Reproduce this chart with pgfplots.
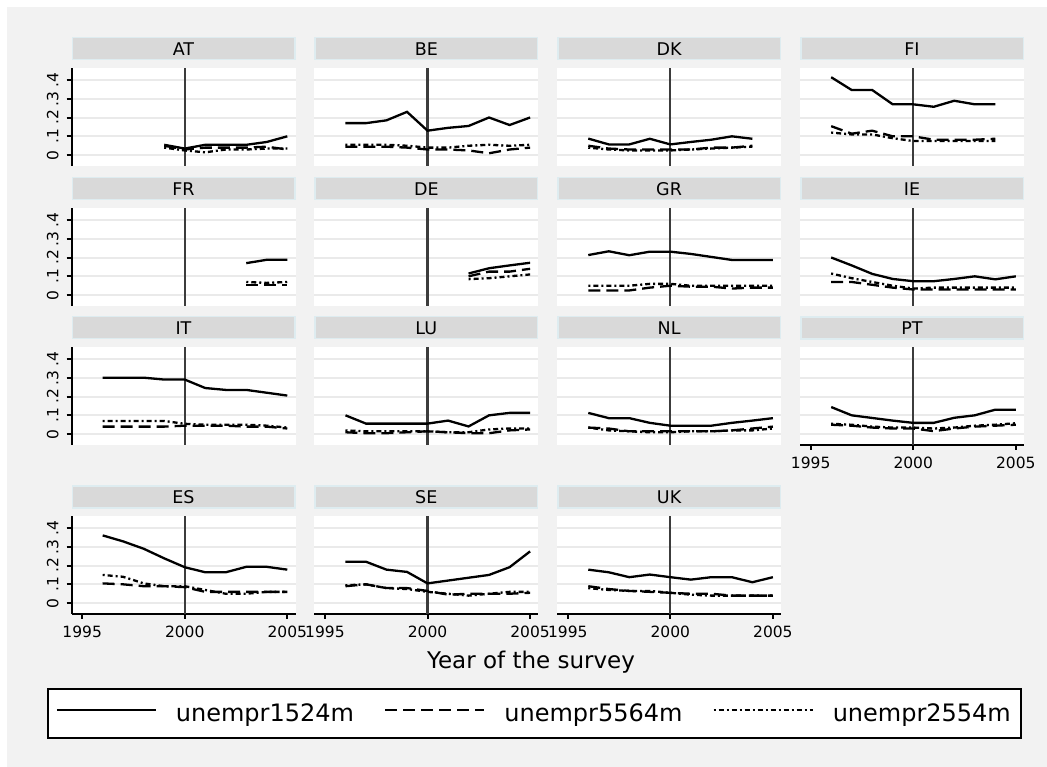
\documentclass[border=0pt]{standalone}
\usepackage{fontspec}
\setmainfont{DejaVu Sans}
\usepackage{pgfplots}
\pgfplotsset{compat=1.18}
\definecolor{bggray}{RGB}{242,242,242}
\definecolor{hdrgray}{RGB}{217,217,217}
\definecolor{hdrborder}{RGB}{222,236,240}
\definecolor{gridgray}{RGB}{234,234,234}
\definecolor{vlinegray}{RGB}{60,60,60}
\newcommand{\tickfont}{\fontsize{15.5}{18}\selectfont}
\newcommand{\hdrfont}{\fontsize{17.5}{19}\selectfont}
\newcommand{\bigfont}{\fontsize{24}{28}\selectfont}
\pgfplotsset{
 panel/.style={
  scale only axis, width=224pt, height=97.5pt, anchor=north west,
  xmin=1994.48, xmax=2005.4, ymin=-0.055, ymax=0.463,
  axis background/.style={fill=white},
  separate axis lines, axis x line*=bottom, axis y line*=left,
  x axis line style={draw=none,-}, y axis line style={draw=none,-},
  xtick={1995,2000,2005}, xticklabels={}, ytick={0,0.1,0.2,0.3,0.4}, yticklabels={},
  xtick style={draw=none}, ytick style={draw=none},
  ymajorgrids, major grid style={gridgray, line width=2pt},
  tick align=outside, major tick length=5pt,
  tick label style={font=\tickfont},
  title style={at={(0.5,1)}, anchor=south, yshift=1.5pt, fill=hdrgray, draw=hdrborder, line width=1.5pt, minimum width=222.5pt, minimum height=22pt, inner sep=0pt, font=\hdrfont},
  legend image code/.code={\draw[##1] (0pt,3.5pt) -- (99pt,3.5pt);},
 },
 ylab/.style={y axis line style={draw=black, line width=2pt}, ytick style={draw=black, line width=2pt}, yticklabels={0,.1,.2,.3,.4}, yticklabel style={rotate=90, anchor=south}, yticklabel shift=4.5pt},
 xlab/.style={x axis line style={draw=black, line width=2pt}, xtick style={draw=black, line width=2pt}, xticklabels={1995,2000,2005}, xticklabel shift=3.5pt},
 s1/.style={black, line width=2.3pt},
 s2/.style={black, line width=2.3pt, dash pattern=on 12pt off 6pt},
 s3/.style={black, line width=2.3pt, dash pattern=on 2pt off 3pt on 5pt off 3pt},
 vl/.style={vlinegray, line width=2.2pt, forget plot},
}
\begin{document}
\begin{tikzpicture}
\fill[white] (0,0) rectangle (1047pt,-767pt);
\fill[bggray] (7pt,-7pt) rectangle (1047pt,-767pt);

% Row 1
\begin{axis}[panel, ylab, at={(71.5pt,-68pt)}, title={AT}]
\addplot[vl] coordinates {(2000,-0.055) (2000,0.463)};
\addplot[s1] coordinates {(1999,0.055) (2000,0.035) (2001,0.055) (2002,0.055) (2003,0.055) (2004,0.07) (2005,0.1)};
\addplot[s2] coordinates {(1999,0.05) (2000,0.03) (2001,0.04) (2002,0.04) (2003,0.04) (2004,0.045) (2005,0.03)};
\addplot[s3] coordinates {(1999,0.04) (2000,0.025) (2001,0.015) (2002,0.03) (2003,0.03) (2004,0.035) (2005,0.035)};
\end{axis}
\begin{axis}[panel, at={(314.3pt,-68pt)}, title={BE}]
\addplot[vl] coordinates {(2000,-0.055) (2000,0.463)};
\addplot[s1] coordinates {(1996,0.17) (1997,0.17) (1998,0.185) (1999,0.23) (2000,0.13) (2001,0.145) (2002,0.155) (2003,0.2) (2004,0.16) (2005,0.2)};
\addplot[s2] coordinates {(1996,0.045) (1997,0.045) (1998,0.045) (1999,0.04) (2000,0.03) (2001,0.03) (2002,0.025) (2003,0.01) (2004,0.03) (2005,0.04)};
\addplot[s3] coordinates {(1996,0.055) (1997,0.055) (1998,0.055) (1999,0.05) (2000,0.04) (2001,0.04) (2002,0.05) (2003,0.055) (2004,0.05) (2005,0.055)};
\end{axis}
\begin{axis}[panel, at={(557.1pt,-68pt)}, title={DK}]
\addplot[vl] coordinates {(2000,-0.055) (2000,0.463)};
\addplot[s1] coordinates {(1996,0.088) (1997,0.057) (1998,0.057) (1999,0.087) (2000,0.057) (2001,0.07) (2002,0.082) (2003,0.1) (2004,0.087)};
\addplot[s2] coordinates {(1996,0.05) (1997,0.035) (1998,0.03) (1999,0.03) (2000,0.03) (2001,0.03) (2002,0.04) (2003,0.04) (2004,0.05)};
\addplot[s3] coordinates {(1996,0.04) (1997,0.03) (1998,0.025) (1999,0.025) (2000,0.025) (2001,0.03) (2002,0.035) (2003,0.04) (2004,0.045)};
\end{axis}
\begin{axis}[panel, at={(800pt,-68pt)}, title={FI}]
\addplot[vl] coordinates {(2000,-0.055) (2000,0.463)};
\addplot[s1] coordinates {(1996,0.414) (1997,0.346) (1998,0.346) (1999,0.27) (2000,0.27) (2001,0.257) (2002,0.289) (2003,0.27) (2004,0.27)};
\addplot[s2] coordinates {(1996,0.154) (1997,0.114) (1998,0.13) (1999,0.1) (2000,0.1) (2001,0.082) (2002,0.082) (2003,0.082) (2004,0.087)};
\addplot[s3] coordinates {(1996,0.12) (1997,0.11) (1998,0.11) (1999,0.09) (2000,0.075) (2001,0.075) (2002,0.075) (2003,0.075) (2004,0.075)};
\end{axis}

% Row 2
\begin{axis}[panel, ylab, at={(71.5pt,-208pt)}, title={FR}]
\addplot[vl] coordinates {(2000,-0.055) (2000,0.463)};
\addplot[s1] coordinates {(2003,0.17) (2004,0.188) (2005,0.188)};
\addplot[s2] coordinates {(2003,0.055) (2004,0.055) (2005,0.055)};
\addplot[s3] coordinates {(2003,0.07) (2004,0.065) (2005,0.07)};
\end{axis}
\begin{axis}[panel, at={(314.3pt,-208pt)}, title={DE}]
\addplot[vl] coordinates {(2000,-0.055) (2000,0.463)};
\addplot[s1] coordinates {(2002,0.115) (2003,0.143) (2004,0.158) (2005,0.172)};
\addplot[s2] coordinates {(2002,0.1) (2003,0.125) (2004,0.125) (2005,0.14)};
\addplot[s3] coordinates {(2002,0.085) (2003,0.09) (2004,0.1) (2005,0.11)};
\end{axis}
\begin{axis}[panel, at={(557.1pt,-208pt)}, title={GR}]
\addplot[vl] coordinates {(2000,-0.055) (2000,0.463)};
\addplot[s1] coordinates {(1996,0.213) (1997,0.233) (1998,0.212) (1999,0.231) (2000,0.231) (2001,0.219) (2002,0.203) (2003,0.187) (2004,0.187) (2005,0.187)};
\addplot[s2] coordinates {(1996,0.025) (1997,0.025) (1998,0.025) (1999,0.04) (2000,0.05) (2001,0.045) (2002,0.045) (2003,0.035) (2004,0.04) (2005,0.04)};
\addplot[s3] coordinates {(1996,0.05) (1997,0.05) (1998,0.05) (1999,0.06) (2000,0.06) (2001,0.05) (2002,0.05) (2003,0.05) (2004,0.05) (2005,0.05)};
\end{axis}
\begin{axis}[panel, at={(800pt,-208pt)}, title={IE}]
\addplot[vl] coordinates {(2000,-0.055) (2000,0.463)};
\addplot[s1] coordinates {(1996,0.2) (1997,0.158) (1998,0.113) (1999,0.086) (2000,0.074) (2001,0.074) (2002,0.086) (2003,0.1) (2004,0.084) (2005,0.1)};
\addplot[s2] coordinates {(1996,0.07) (1997,0.07) (1998,0.055) (1999,0.04) (2000,0.03) (2001,0.03) (2002,0.03) (2003,0.03) (2004,0.03) (2005,0.03)};
\addplot[s3] coordinates {(1996,0.115) (1997,0.09) (1998,0.07) (1999,0.05) (2000,0.035) (2001,0.04) (2002,0.04) (2003,0.04) (2004,0.04) (2005,0.04)};
\end{axis}

% Row 3
\begin{axis}[panel, ylab, at={(71.5pt,-347pt)}, title={IT}]
\addplot[vl] coordinates {(2000,-0.055) (2000,0.463)};
\addplot[s1] coordinates {(1996,0.3) (1997,0.3) (1998,0.3) (1999,0.29) (2000,0.29) (2001,0.245) (2002,0.235) (2003,0.235) (2004,0.22) (2005,0.205)};
\addplot[s2] coordinates {(1996,0.04) (1997,0.04) (1998,0.04) (1999,0.04) (2000,0.045) (2001,0.045) (2002,0.045) (2003,0.04) (2004,0.04) (2005,0.03)};
\addplot[s3] coordinates {(1996,0.07) (1997,0.07) (1998,0.07) (1999,0.07) (2000,0.055) (2001,0.05) (2002,0.05) (2003,0.05) (2004,0.045) (2005,0.035)};
\end{axis}
\begin{axis}[panel, at={(314.3pt,-347pt)}, title={LU}]
\addplot[vl] coordinates {(2000,-0.055) (2000,0.463)};
\addplot[s1] coordinates {(1996,0.1) (1997,0.056) (1998,0.056) (1999,0.056) (2000,0.056) (2001,0.072) (2002,0.041) (2003,0.1) (2004,0.113) (2005,0.113)};
\addplot[s2] coordinates {(1996,0.01) (1997,0.005) (1998,0.005) (1999,0.01) (2000,0.015) (2001,0.01) (2002,0.005) (2003,0.005) (2004,0.02) (2005,0.025)};
\addplot[s3] coordinates {(1996,0.02) (1997,0.015) (1998,0.015) (1999,0.015) (2000,0.015) (2001,0.01) (2002,0.01) (2003,0.025) (2004,0.03) (2005,0.03)};
\end{axis}
\begin{axis}[panel, at={(557.1pt,-347pt)}, title={NL}]
\addplot[vl] coordinates {(2000,-0.055) (2000,0.463)};
\addplot[s1] coordinates {(1996,0.113) (1997,0.085) (1998,0.085) (1999,0.06) (2000,0.045) (2001,0.045) (2002,0.045) (2003,0.06) (2004,0.072) (2005,0.085)};
\addplot[s2] coordinates {(1996,0.035) (1997,0.03) (1998,0.015) (1999,0.015) (2000,0.015) (2001,0.015) (2002,0.015) (2003,0.02) (2004,0.03) (2005,0.04)};
\addplot[s3] coordinates {(1996,0.035) (1997,0.02) (1998,0.015) (1999,0.01) (2000,0.01) (2001,0.015) (2002,0.015) (2003,0.02) (2004,0.02) (2005,0.03)};
\end{axis}
\begin{axis}[panel, xlab, at={(800pt,-347pt)}, title={PT}]
\addplot[vl] coordinates {(2000,-0.055) (2000,0.463)};
\addplot[s1] coordinates {(1996,0.144) (1997,0.1) (1998,0.086) (1999,0.072) (2000,0.06) (2001,0.06) (2002,0.087) (2003,0.1) (2004,0.13) (2005,0.13)};
\addplot[s2] coordinates {(1996,0.05) (1997,0.045) (1998,0.035) (1999,0.03) (2000,0.03) (2001,0.016) (2002,0.03) (2003,0.04) (2004,0.045) (2005,0.05)};
\addplot[s3] coordinates {(1996,0.055) (1997,0.05) (1998,0.04) (1999,0.035) (2000,0.035) (2001,0.03) (2002,0.035) (2003,0.045) (2004,0.05) (2005,0.058)};
\end{axis}

% Row 4
\begin{axis}[panel, ylab, xlab, at={(71.5pt,-516pt)}, title={ES}]
\addplot[vl] coordinates {(2000,-0.055) (2000,0.463)};
\addplot[s1] coordinates {(1996,0.36) (1997,0.328) (1998,0.289) (1999,0.238) (2000,0.191) (2001,0.164) (2002,0.164) (2003,0.193) (2004,0.193) (2005,0.178)};
\addplot[s2] coordinates {(1996,0.105) (1997,0.1) (1998,0.09) (1999,0.09) (2000,0.085) (2001,0.06) (2002,0.06) (2003,0.06) (2004,0.06) (2005,0.06)};
\addplot[s3] coordinates {(1996,0.15) (1997,0.14) (1998,0.105) (1999,0.09) (2000,0.09) (2001,0.07) (2002,0.05) (2003,0.05) (2004,0.06) (2005,0.06)};
\end{axis}
\begin{axis}[panel, xlab, at={(314.3pt,-516pt)}, title={SE}]
\addplot[vl] coordinates {(2000,-0.055) (2000,0.463)};
\addplot[s1] coordinates {(1996,0.22) (1997,0.22) (1998,0.178) (1999,0.166) (2000,0.105) (2001,0.12) (2002,0.135) (2003,0.15) (2004,0.191) (2005,0.275)};
\addplot[s2] coordinates {(1996,0.09) (1997,0.1) (1998,0.08) (1999,0.08) (2000,0.065) (2001,0.045) (2002,0.05) (2003,0.05) (2004,0.05) (2005,0.055)};
\addplot[s3] coordinates {(1996,0.095) (1997,0.1) (1998,0.08) (1999,0.075) (2000,0.06) (2001,0.05) (2002,0.04) (2003,0.05) (2004,0.06) (2005,0.06)};
\end{axis}
\begin{axis}[panel, xlab, at={(557.1pt,-516pt)}, title={UK},
  legend columns=3,
  legend style={at={(-0.10201,-1.02564)}, anchor=center, draw=black, line width=2pt, fill=white, font=\bigfont,
    /tikz/every odd column/.style={column sep=17pt}, /tikz/every even column/.style={column sep=28pt},
    inner xsep=8pt, inner ysep=12.5pt}]
\addplot[vl] coordinates {(2000,-0.055) (2000,0.463)};
\addplot[s1] coordinates {(1996,0.178) (1997,0.164) (1998,0.138) (1999,0.152) (2000,0.138) (2001,0.125) (2002,0.138) (2003,0.138) (2004,0.111) (2005,0.138)};
\addlegendentry{unempr1524m}
\addplot[s2] coordinates {(1996,0.09) (1997,0.075) (1998,0.065) (1999,0.06) (2000,0.055) (2001,0.05) (2002,0.05) (2003,0.04) (2004,0.04) (2005,0.04)};
\addlegendentry{unempr5564m}
\addplot[s3] coordinates {(1996,0.08) (1997,0.07) (1998,0.065) (1999,0.065) (2000,0.055) (2001,0.045) (2002,0.04) (2003,0.04) (2004,0.04) (2005,0.04)};
\addlegendentry{unempr2554m}
\end{axis}

\node[font=\fontsize{23}{27}\selectfont, anchor=base] at (531pt,-668pt) {Year of the survey};

\pgfresetboundingbox
\useasboundingbox (0,0) rectangle (1047pt,-767pt);
\end{tikzpicture}
\end{document}
